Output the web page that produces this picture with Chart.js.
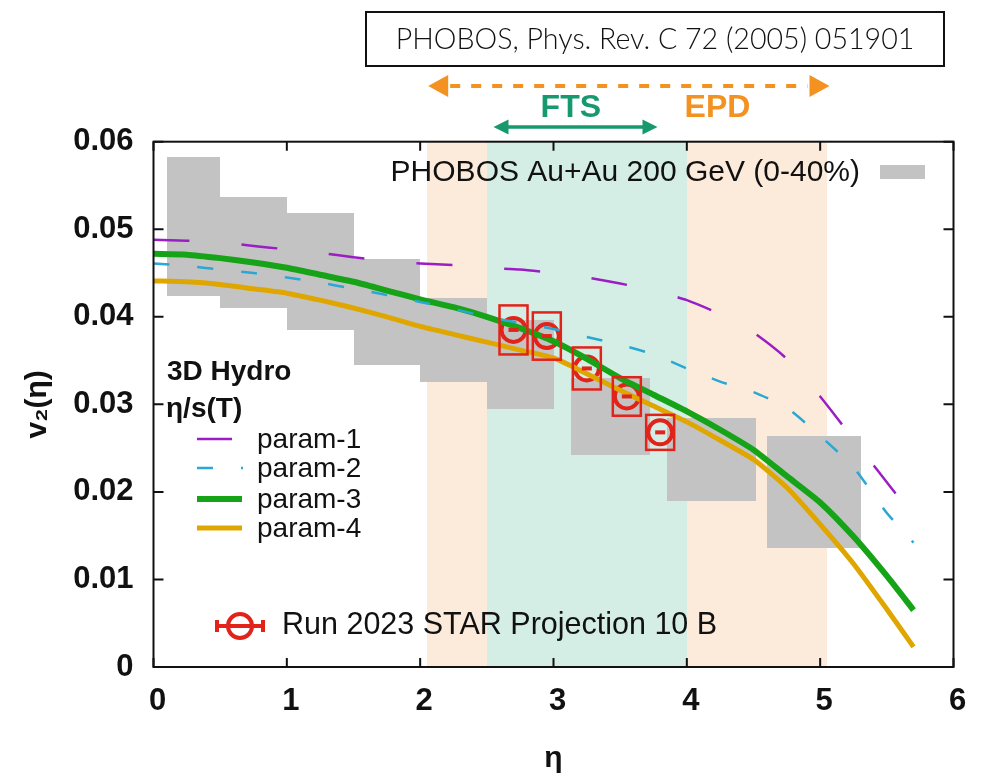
<!DOCTYPE html>
<html lang="en">
<head>
  <meta charset="UTF-8">
  <title>v2(eta) - PHOBOS vs 3D Hydro</title>
  <script src="https://cdn.jsdelivr.net/npm/chart.js"></script>
  <style>
    html, body { margin: 0; padding: 0; background: #ffffff; }
    #chart-container { width: 983px; height: 777px; }
  </style>
</head>
<body>
  <div id="chart-container">
    <canvas id="v2Chart" width="983" height="777"></canvas>
  </div>
  <script>
    // 3D hydro curves, eta/s(T) parametrisations
    const etaGrid = [0, 0.25, 0.5, 0.75, 1, 1.25, 1.5, 1.75, 2, 2.25, 2.5, 2.75, 3, 3.25, 3.5, 3.75, 4, 4.25, 4.5, 4.75, 5, 5.25, 5.5, 5.7];
    const param1 = [0.0488, 0.0487, 0.0485, 0.0481, 0.0477, 0.0473, 0.0468, 0.0464, 0.0461, 0.0459, 0.0456, 0.0454, 0.0450, 0.0445, 0.0438, 0.0430, 0.0419, 0.0403, 0.0382, 0.0352, 0.0309, 0.0260, 0.0211, 0.0172];
    const param2 = [0.0461, 0.0458, 0.0454, 0.0450, 0.0445, 0.0439, 0.0432, 0.0425, 0.0417, 0.0409, 0.0400, 0.0393, 0.0386, 0.0377, 0.0368, 0.0357, 0.0341, 0.0326, 0.0314, 0.0296, 0.0264, 0.0228, 0.0176, 0.0142];
    const param3 = [0.0472, 0.0471, 0.0467, 0.0462, 0.0456, 0.0448, 0.0440, 0.0430, 0.0420, 0.0411, 0.0400, 0.0387, 0.0372, 0.0352, 0.0330, 0.0311, 0.0292, 0.0271, 0.0248, 0.0218, 0.0188, 0.0149, 0.0104, 0.0065];
    const param4 = [0.0441, 0.0440, 0.0437, 0.0432, 0.0427, 0.0419, 0.0410, 0.0400, 0.0389, 0.0380, 0.0371, 0.0362, 0.0353, 0.0335, 0.0316, 0.0298, 0.0280, 0.0259, 0.0237, 0.0205, 0.0163, 0.0118, 0.0066, 0.0023];

    // PHOBOS Au+Au 200 GeV (0-40%) boxes
    const phobosEtaLo = [0.1, 0.5, 1.0, 1.5, 2.0, 2.5, 3.13, 3.85, 4.6];
    const phobosEtaHi = [0.5, 1.0, 1.5, 2.0, 2.5, 3.0, 3.72, 4.52, 5.31];
    const phobosHigh = [0.0583, 0.0537, 0.0518, 0.0466, 0.0422, 0.0396, 0.0330, 0.0284, 0.0264];
    const phobosLow = [0.0424, 0.0410, 0.0385, 0.0345, 0.0326, 0.0295, 0.0242, 0.0190, 0.0136];

    // Run 2023 STAR projection
    const starEta = [2.70, 2.95, 3.25, 3.55, 3.80];
    const starV2 = [0.0385, 0.0378, 0.0341, 0.0309, 0.0268];
    const starSys = [0.0028, 0.0027, 0.0024, 0.0022, 0.0020];
    const starEtaHalf = 0.105;

    // detector acceptances
    const epdRange = [2.05, 5.05];
    const ftsRange = [2.5, 4.0];
    const epdArrow = [2.06, 5.07];
    const ftsArrow = [2.55, 3.78];

    const xTickLabels = ['0', '1', '2', '3', '4', '5', '6'];
    const yTickLabels = ['0', '0.01', '0.02', '0.03', '0.04', '0.05', '0.06'];

    const FONT = '"Liberation Sans", Arial, Helvetica, sans-serif';
    const RED = '#e2231a';
    const GRAY = '#c3c3c3';

    const curve = (vals, color, width, dash) => ({
      data: etaGrid.map((x, i) => ({ x, y: vals[i] })),
      borderColor: color, borderWidth: width, borderDash: dash,
      fill: false, pointRadius: 0, tension: 0.2
    });
    const datasets = [
      curve(param1, '#9a1ec4', 2.5, [36, 52]),
      curve(param2, '#2aa8d4', 2.5, [16, 28]),
      curve(param3, '#17a317', 6, []),
      curve(param4, '#e0a600', 5, []),
      {
        data: starEta.map((x, i) => ({ x, y: starV2[i] })),
        showLine: false, pointStyle: 'circle', pointRadius: 12,
        pointBorderWidth: 4, pointBorderColor: RED,
        pointBackgroundColor: 'rgba(0,0,0,0)'
      }
    ];

    // acceptance bands and PHOBOS boxes, snapped to whole pixels so that
    // neighbouring boxes do not show seams
    const backdrop = {
      id: 'backdrop',
      beforeDatasetsDraw(chart) {
        const { ctx, chartArea: a, scales: { x, y } } = chart;
        const px = v => Math.round(x.getPixelForValue(v));
        const py = v => Math.round(y.getPixelForValue(v));
        ctx.save();
        ctx.fillStyle = '#fcebdb';
        ctx.fillRect(px(epdRange[0]), a.top, px(epdRange[1]) - px(epdRange[0]), a.bottom - a.top);
        ctx.fillStyle = '#d4eee6';
        ctx.fillRect(px(ftsRange[0]), a.top, px(ftsRange[1]) - px(ftsRange[0]), a.bottom - a.top);
        ctx.fillStyle = GRAY;
        phobosEtaLo.forEach((lo, i) => {
          const x0 = px(lo), x1 = px(phobosEtaHi[i]);
          const y0 = py(phobosHigh[i]), y1 = py(phobosLow[i]);
          ctx.fillRect(x0, y0, x1 - x0, y1 - y0);
        });
        ctx.restore();
      }
    };

    // systematic boxes + tiny stat bars for the STAR points
    const starBoxes = {
      id: 'starBoxes',
      afterDatasetsDraw(chart) {
        const { ctx, scales: { x, y } } = chart;
        ctx.save();
        ctx.strokeStyle = RED;
        ctx.fillStyle = RED;
        ctx.lineWidth = 2.5;
        starEta.forEach((eta, i) => {
          const x0 = x.getPixelForValue(eta - starEtaHalf);
          const x1 = x.getPixelForValue(eta + starEtaHalf);
          const y0 = y.getPixelForValue(starV2[i] + starSys[i]);
          const y1 = y.getPixelForValue(starV2[i] - starSys[i]);
          ctx.strokeRect(x0, y0, x1 - x0, y1 - y0);
          const cx = x.getPixelForValue(eta), cy = y.getPixelForValue(starV2[i]);
          ctx.fillRect(cx - 5, cy - 2, 10, 4);
        });
        ctx.restore();
      }
    };

    // frame with inward ticks on all four sides
    const frame = {
      id: 'frame',
      afterDatasetsDraw(chart) {
        const { ctx, chartArea: a, scales: { x, y } } = chart;
        ctx.save();
        ctx.strokeStyle = '#111';
        ctx.lineWidth = 2;
        ctx.strokeRect(a.left, a.top, a.right - a.left, a.bottom - a.top);
        ctx.beginPath();
        x.ticks.forEach(t => {
          const p = x.getPixelForValue(t.value);
          ctx.moveTo(p, a.bottom); ctx.lineTo(p, a.bottom - 9);
          ctx.moveTo(p, a.top); ctx.lineTo(p, a.top + 9);
        });
        y.ticks.forEach(t => {
          const p = y.getPixelForValue(t.value);
          ctx.moveTo(a.left, p); ctx.lineTo(a.left + 10, p);
          ctx.moveTo(a.right, p); ctx.lineTo(a.right - 10, p);
        });
        ctx.stroke();
        ctx.restore();
      }
    };

    function arrowHead(ctx, xTip, yMid, dir, len, half) {
      ctx.beginPath();
      ctx.moveTo(xTip, yMid);
      ctx.lineTo(xTip - dir * len, yMid - half);
      ctx.lineTo(xTip - dir * len, yMid + half);
      ctx.closePath();
      ctx.fill();
    }

    // legends and annotations
    const annotations = {
      id: 'annotations',
      afterDraw(chart) {
        const { ctx, scales: { x } } = chart;
        ctx.save();

        // reference box at the top
        ctx.strokeStyle = '#111';
        ctx.lineWidth = 2;
        ctx.strokeRect(366, 12, 578, 54);
        ctx.fillStyle = '#111';
        ctx.textAlign = 'center';
        ctx.textBaseline = 'middle';
        const ref = 'PHOBOS, Phys. Rev. C 72 (2005) 051901';
        ctx.font = '300 26px Lato, ' + FONT;
        const sz = 26 * 518 / ctx.measureText(ref).width;
        ctx.font = '300 ' + sz.toFixed(1) + 'px Lato, ' + FONT;
        ctx.fillText(ref, 655, 40);

        // EPD dashed arrow
        const orange = '#f39220', teal = '#17996f';
        const ex0 = x.getPixelForValue(epdArrow[0]), ex1 = x.getPixelForValue(epdArrow[1]);
        ctx.strokeStyle = orange; ctx.fillStyle = orange;
        ctx.lineWidth = 4;
        ctx.setLineDash([10, 11]);
        ctx.beginPath(); ctx.moveTo(ex0 + 22, 86); ctx.lineTo(ex1 - 22, 86); ctx.stroke();
        ctx.setLineDash([]);
        arrowHead(ctx, ex0, 86, -1, 20, 11);
        arrowHead(ctx, ex1, 86, 1, 20, 11);
        ctx.font = 'bold 32px ' + FONT;
        ctx.fillText('EPD', x.getPixelForValue(4.23), 108);

        // FTS arrow
        const fx0 = x.getPixelForValue(ftsArrow[0]), fx1 = x.getPixelForValue(ftsArrow[1]);
        ctx.strokeStyle = teal; ctx.fillStyle = teal;
        ctx.lineWidth = 3.5;
        ctx.beginPath(); ctx.moveTo(fx0 + 10, 127); ctx.lineTo(fx1 - 10, 127); ctx.stroke();
        arrowHead(ctx, fx0, 127, -1, 15, 7.5);
        arrowHead(ctx, fx1, 127, 1, 15, 7.5);
        ctx.fillText('FTS', x.getPixelForValue(3.13), 108);

        // PHOBOS legend entry
        ctx.fillStyle = '#111';
        ctx.font = '30px ' + FONT;
        ctx.textAlign = 'right';
        ctx.fillText('PHOBOS Au+Au 200 GeV (0-40%)', 860, 173);
        ctx.fillStyle = GRAY;
        ctx.fillRect(880, 165, 45, 14);

        // hydro legend
        ctx.textAlign = 'left';
        ctx.fillStyle = '#111';
        ctx.font = 'bold 28px ' + FONT;
        ctx.fillText('3D Hydro', 167, 372);
        ctx.fillText('\u03b7/s(T)', 166, 409);
        const rows = [
          { label: 'param-1', color: '#9a1ec4', w: 2.5, dash: [], len: 35, y: 439 },
          { label: 'param-2', color: '#2aa8d4', w: 2.5, dash: [16, 28], len: 46, y: 468 },
          { label: 'param-3', color: '#17a317', w: 6, dash: [], len: 45, y: 499 },
          { label: 'param-4', color: '#e0a600', w: 5, dash: [], len: 45, y: 528 }
        ];
        ctx.font = '28px ' + FONT;
        rows.forEach(r => {
          ctx.strokeStyle = r.color;
          ctx.lineWidth = r.w;
          ctx.setLineDash(r.dash);
          ctx.beginPath(); ctx.moveTo(197, r.y); ctx.lineTo(197 + r.len, r.y); ctx.stroke();
          ctx.setLineDash([]);
          ctx.fillStyle = '#111';
          ctx.fillText(r.label, 257, r.y + 1);
        });

        // STAR legend entry
        ctx.strokeStyle = RED;
        ctx.lineWidth = 4;
        ctx.beginPath();
        ctx.moveTo(217, 626); ctx.lineTo(263, 626);
        ctx.moveTo(217, 620); ctx.lineTo(217, 632);
        ctx.moveTo(263, 620); ctx.lineTo(263, 632);
        ctx.stroke();
        ctx.beginPath(); ctx.arc(240, 626, 12, 0, Math.PI * 2); ctx.stroke();
        ctx.fillStyle = '#111';
        ctx.font = '30.5px ' + FONT;
        ctx.fillText('Run 2023 STAR Projection 10 B', 282, 626);

        ctx.restore();
      }
    };

    const ctx = document.getElementById('v2Chart').getContext('2d');
    const v2Chart = new Chart(ctx, {
      type: 'line',
      data: { datasets },
      plugins: [backdrop, starBoxes, frame, annotations],
      options: {
        responsive: false,
        animation: false,
        devicePixelRatio: 1,
        events: [],
        layout: { padding: { top: 141.7, right: 29.5, left: 0, bottom: 0 } },
        plugins: { legend: { display: false }, tooltip: { enabled: false } },
        scales: {
          x: {
            type: 'linear', min: 0, max: 6,
            afterFit: s => { s.height = 110; },
            grid: { display: false, drawTicks: false },
            border: { display: false },
            ticks: {
              stepSize: 1, padding: 16, labelOffset: 4, maxRotation: 0,
              color: '#111', font: { family: FONT, size: 31, weight: 'bold' },
              callback: (v, i) => xTickLabels[i]
            },
            title: {
              display: true, text: '\u03b7', color: '#111',
              font: { family: FONT, size: 30, weight: 'bold' },
              padding: { top: 11, bottom: 0 }
            }
          },
          y: {
            type: 'linear', min: 0, max: 0.06,
            afterFit: s => { s.width = 153.5; },
            grid: { display: false, drawTicks: false },
            border: { display: false },
            ticks: {
              stepSize: 0.01, padding: 20,
              color: '#111', font: { family: FONT, size: 31, weight: 'bold' },
              callback: (v, i) => yTickLabels[i]
            },
            title: {
              display: true, text: 'v\u2082(\u03b7)', color: '#111',
              font: { family: FONT, size: 30, weight: 'bold' },
              padding: { top: 20, bottom: 0 }
            }
          }
        }
      }
    });
  </script>
</body>
</html>
